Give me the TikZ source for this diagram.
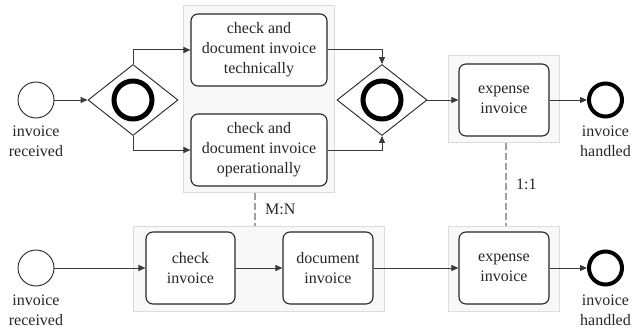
\documentclass[tikz,border=0pt]{standalone}
\usepackage{fontspec}
\setmainfont{Liberation Serif}
\usetikzlibrary{shapes.geometric,arrows.meta}
\definecolor{flowgray}{HTML}{3A3A3A}
\definecolor{groupfill}{HTML}{F8F8F8}
\definecolor{groupline}{HTML}{DCDCDC}
\definecolor{assocgray}{HTML}{A0A0A0}
\tikzset{
  x=1pt, y=-1pt,
  every node/.style={font=\fontsize{16}{20}\selectfont, text=black!85},
  grp/.style={draw=groupline, fill=groupfill, line width=1pt},
  task/.style={draw=black!85, fill=white, rounded corners=7pt, line width=1.1pt,
    align=center, inner sep=0pt},
  startev/.style={circle, draw=black!85, line width=0.9pt, minimum size=36pt, inner sep=0pt},
  endev/.style={circle, draw=black, line width=4pt, minimum size=33pt, inner sep=0pt},
  gateway/.style={diamond, draw=black!85, line width=0.9pt, fill=white,
    minimum width=90pt, minimum height=71pt, inner sep=0pt},
  ring/.style={circle, draw=black, line width=5pt, minimum size=38pt, inner sep=0pt},
  flow/.style={draw=flowgray, line width=1pt, -{Triangle[length=7pt,width=6pt]}},
  assoc/.style={draw=assocgray, line width=1.2pt, dash pattern=on 7pt off 3pt},
  evlabel/.style={align=center, inner sep=0pt},
}
\begin{document}
\begin{tikzpicture}
\useasboundingbox (0,0) rectangle (632,329);

% group frames
\node[grp, minimum width=151pt, minimum height=186pt] (grp1) at (258.5,99) {};
\node[grp, minimum width=111pt, minimum height=86pt] (grp3) at (503.5,99) {};
\node[grp, minimum width=251pt, minimum height=85pt] (grp2) at (258.5,268.5) {};
\node[grp, minimum width=111pt, minimum height=85pt] (grp4) at (503.5,268.5) {};

% upper process
\node[startev] (s1) at (36,100) {};
\node[evlabel] (s1l) at (36,141) {invoice\\received};
\node[gateway] (g1) at (133,100) {};
\node[ring] (r1) at (g1) {};
\node[task, minimum width=136pt, minimum height=72pt] (t1) at (259,50)
  {check and\\document invoice\\technically};
\node[task, minimum width=136pt, minimum height=72pt] (t2) at (259,150)
  {check and\\document invoice\\operationally};
\node[gateway] (g2) at (382,100) {};
\node[ring] (r2) at (g2) {};
\node[task, minimum width=90pt, minimum height=72pt] (t3) at (504,100) {expense\\invoice};
\node[endev] (e1) at (605.5,100) {};
\node[evlabel] (e1l) at (605.5,141) {invoice\\handled};

\draw[flow] (s1) -- (g1.west);
\draw[flow] (g1.north) |- (t1.west);
\draw[flow] (g1.south) |- (t2.west);
\draw[flow] (t1.east) -| (g2.north);
\draw[flow] (t2.east) -| (g2.south);
\draw[flow] (g2.east) -- (t3.west);
\draw[flow] (t3.east) -- (e1.west);

% lower process
\node[startev] (s2) at (36,268) {};
\node[evlabel] (s2l) at (36,310) {invoice\\received};
\node[task, minimum width=89pt, minimum height=72pt] (c1) at (190.5,268) {check\\invoice};
\node[task, minimum width=90pt, minimum height=72pt] (d1) at (328,268) {document\\invoice};
\node[task, minimum width=90pt, minimum height=72pt] (t4) at (504,268) {expense\\invoice};
\node[endev] (e2) at (605.5,268) {};
\node[evlabel] (e2l) at (605.5,310) {invoice\\handled};

\draw[flow] (s2) -- (c1.west);
\draw[flow] (c1) -- (d1);
\draw[flow] (d1) -- (t4);
\draw[flow] (t4.east) -- (e2.west);

% correspondences between the two processes
\coordinate (mn) at (255,209);
\coordinate (oo) at (506,184);
\draw[assoc] (mn |- grp1.south) -- (mn |- grp2.north);
\draw[assoc] (oo |- grp3.south) -- (oo |- grp4.north);
\node[anchor=west, inner sep=0pt] (mnl) at ([xshift=10pt]mn) {M:N};
\node[anchor=west, inner sep=0pt] (ool) at ([xshift=10pt]oo) {1:1};
\end{tikzpicture}
\end{document}
